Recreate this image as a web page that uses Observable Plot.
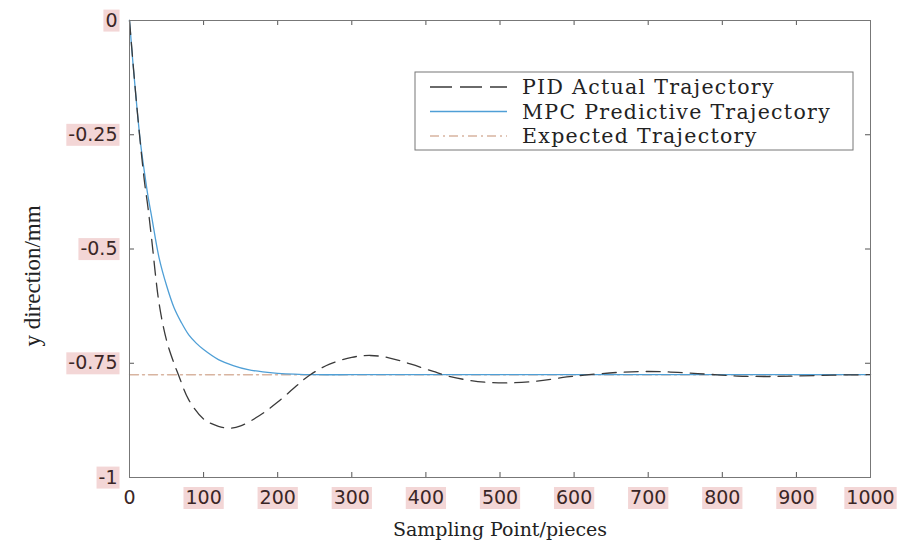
<!DOCTYPE html>
<html>
<head>
<meta charset="utf-8">
<script src="https://cdn.jsdelivr.net/npm/d3@7"></script>
<script src="https://cdn.jsdelivr.net/npm/@observablehq/plot@0.6"></script>
<style>
  body { margin: 0; background: #fff; }
  #chart svg { display: block; }
</style>
</head>
<body>
<div id="chart"></div>
<script>
// ---- data ----
const xTicks = [0, 100, 200, 300, 400, 500, 600, 700, 800, 900, 1000];
const yTicks = [0, -0.25, -0.5, -0.75, -1];

const pidX = [0, 10, 20, 25, 30, 40, 50, 60, 66, 80, 100, 120, 135, 150, 175, 200, 225, 244, 270, 300, 325, 350, 380, 410, 430, 470, 510, 550, 590, 620, 660, 700, 740, 780, 820, 860, 900, 950, 1000];
const pidY = [0, -0.19, -0.35, -0.41, -0.48, -0.62, -0.70, -0.75, -0.775, -0.83, -0.872, -0.888, -0.892, -0.887, -0.865, -0.835, -0.800, -0.775, -0.752, -0.737, -0.733, -0.738, -0.752, -0.768, -0.778, -0.790, -0.793, -0.789, -0.780, -0.775, -0.770, -0.768, -0.770, -0.774, -0.778, -0.779, -0.778, -0.776, -0.775];

const mpcX = [0, 5, 10, 15, 20, 25, 30, 40, 50, 60, 70, 80, 90, 100, 120, 140, 160, 180, 200, 250, 300, 400, 500, 600, 700, 800, 900, 1000];
const mpcY = [0, -0.10, -0.19, -0.27, -0.33, -0.385, -0.43, -0.52, -0.58, -0.628, -0.661, -0.688, -0.706, -0.720, -0.742, -0.755, -0.764, -0.769, -0.772, -0.775, -0.775, -0.775, -0.775, -0.775, -0.775, -0.775, -0.775, -0.775];

const expX = [0, 1000];
const expY = [-0.775, -0.775];

const seriesNames = ["PID Actual Trajectory", "MPC Predictive Trajectory", "Expected Trajectory"];
const xTitle = "Sampling Point/pieces";
const yTitle = "y direction/mm";

// ---- build tables ----
const pid = pidX.map((x, i) => ({x, y: pidY[i]}));
const mpc = mpcX.map((x, i) => ({x, y: mpcY[i]}));
const exp = expX.map((x, i) => ({x, y: expY[i]}));

const colors = {pid: "#3a3a3a", mpc: "#4f9fd6", exp: "#d8b4a0"};
const dashes = {pid: "14,8", mpc: null, exp: "9,4,2,4"};
const tickFont = "DejaVu Sans";
const tickColor = "#3a2626";

const W = 903, H = 546, mL = 129, mR = 33, mT = 20, mB = 69;
const fw = W - mL - mR, fh = H - mT - mB, tk = 5;

const chart = Plot.plot({
  width: W,
  height: H,
  marginLeft: mL,
  marginRight: mR,
  marginTop: mT,
  marginBottom: mB,
  style: {background: "#fff", overflow: "visible"},
  x: {domain: [0, 1000]},
  y: {domain: [-1, 0]},
  marks: [
    // inward ticks on all four sides
    Plot.tickX(xTicks, {x: d => d, insetTop: fh - tk, stroke: "#555"}),
    Plot.tickX(xTicks, {x: d => d, insetBottom: fh - tk, stroke: "#555"}),
    Plot.tickY(yTicks, {y: d => d, insetRight: fw - tk, stroke: "#555"}),
    Plot.tickY(yTicks, {y: d => d, insetLeft: fw - tk, stroke: "#555"}),
    // tick labels
    Plot.axisX(xTicks, {anchor: "bottom", tickSize: 0, tickPadding: 13, label: null, tickFormat: d => String(d),
      fontSize: 19, fontFamily: tickFont, fill: tickColor}),
    Plot.axisY(yTicks, {anchor: "left", tickSize: 0, tickPadding: 12, label: null, tickFormat: d => String(d),
      fontSize: 19, fontFamily: tickFont, fill: tickColor}),
    // series
    Plot.line(exp, {x: "x", y: "y", stroke: colors.exp, strokeWidth: 1.4, strokeDasharray: dashes.exp}),
    Plot.line(mpc, {x: "x", y: "y", stroke: colors.mpc, strokeWidth: 1.3, curve: "catmull-rom"}),
    Plot.line(pid, {x: "x", y: "y", stroke: colors.pid, strokeWidth: 1.3, strokeDasharray: dashes.pid, curve: "catmull-rom"}),
    Plot.frame({stroke: "#777", strokeWidth: 1}),
    // x axis title
    Plot.text([xTitle], {frameAnchor: "bottom", dy: 52, text: d => d, fontSize: 19, fontFamily: "DejaVu Serif", fill: "#222", lineAnchor: "middle"})
  ]
});

document.getElementById("chart").appendChild(chart);
const svg = d3.select(chart);

// ---- y axis title ----
svg.append("text")
  .attr("transform", "translate(32,276) rotate(-90)")
  .attr("text-anchor", "middle").attr("dy", "0.35em")
  .attr("font-family", "Liberation Serif").attr("font-size", 23).attr("fill", "#222")
  .text(yTitle);

// ---- pink highlight behind tick labels (as in the reference) ----
svg.selectAll("g[aria-label$='tick label'] text").each(function () {
  const t = this.textContent;
  const isX = this.parentNode.getAttribute("aria-label").startsWith("x");
  if (isX && t === "0") return;
  const b = this.getBBox();
  const tr = this.getAttribute("transform");
  const r = d3.select(this.parentNode).insert("rect", () => this)
    .attr("x", b.x - 2).attr("y", b.y + 1).attr("width", b.width + 4).attr("height", b.height)
    .attr("fill", "#f3d6d6");
  if (tr) r.attr("transform", tr);
});

// ---- legend inside the plot box ----
const lg = svg.append("g").attr("aria-label", "legend").attr("text-anchor", "start");
const box = {x: 415, y: 72, w: 438, h: 78};
lg.append("rect").attr("x", box.x).attr("y", box.y).attr("width", box.w).attr("height", box.h)
  .attr("fill", "#fff").attr("stroke", "#777").attr("stroke-width", 1);
const keys = ["pid", "mpc", "exp"];
keys.forEach((k, i) => {
  const yy = box.y + 15 + i * 24.5;
  lg.append("line").attr("x1", box.x + 15).attr("x2", box.x + 92).attr("y1", yy).attr("y2", yy)
    .attr("stroke", colors[k]).attr("stroke-width", 1.3)
    .attr("stroke-dasharray", k === "pid" ? "22,8" : dashes[k]);
  lg.append("text").attr("x", box.x + 107).attr("y", yy).attr("dy", "0.35em")
    .attr("text-anchor", "start")
    .attr("font-family", "DejaVu Serif").attr("font-size", 20.5).attr("letter-spacing", 1.3).attr("fill", "#222")
    .text(seriesNames[i]);
});
</script>
</body>
</html>
